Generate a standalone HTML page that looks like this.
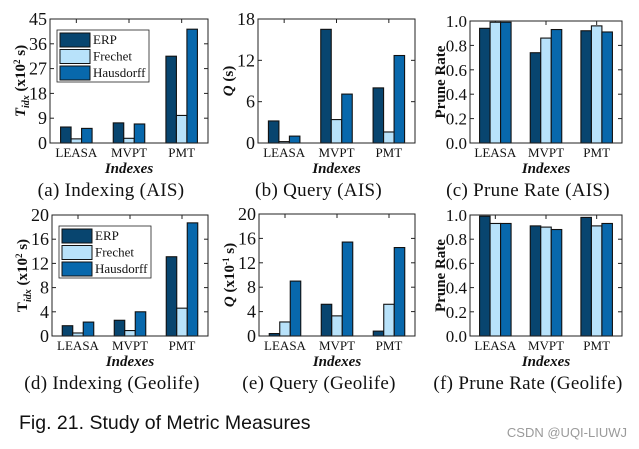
<!DOCTYPE html>
<html><head><meta charset="utf-8">
<style>
body{margin:0;background:#fff;}
svg{display:block;}
text{font-family:"Liberation Serif",serif;fill:#111;}
</style></head>
<body>
<svg id="fig" width="639" height="449" viewBox="0 0 639 449" xmlns="http://www.w3.org/2000/svg"></svg>
<script>
const categories = ["LEASA","MVPT","PMT"];
const seriesNames = ["ERP","Frechet","Hausdorff"];
const colors = ["#08456f","#b8e2fa","#0868ac"];
const aErp=[5.8,7.3,31.5], aFre=[1.5,1.7,10], aHau=[5.3,6.9,41.3];
const bErp=[3.2,16.5,8], bFre=[0.2,3.4,1.6], bHau=[1,7.1,12.7];
const cErp=[0.94,0.74,0.92], cFre=[0.99,0.86,0.96], cHau=[0.99,0.93,0.91];
const dErp=[1.7,2.6,13.1], dFre=[0.5,0.9,4.6], dHau=[2.3,4.0,18.7];
const eErp=[0.4,5.2,0.8], eFre=[2.3,3.3,5.2], eHau=[9.0,15.4,14.5];
const fErp=[0.99,0.91,0.98], fFre=[0.93,0.90,0.91], fHau=[0.93,0.88,0.93];
const aTicks=[0,9,18,27,36,45], bTicks=[0,6,12,18], cTicks=["0.0","0.2","0.4","0.6","0.8","1.0"];
const dTicks=[0,4,8,12,16,20], eTicks=[0,4,8,12,16,20], fTicks=["0.0","0.2","0.4","0.6","0.8","1.0"];

const NS="http://www.w3.org/2000/svg";
const svg=document.getElementById('fig');
function mk(tag,attrs,parent,txt){const e=document.createElementNS(NS,tag);for(const k in attrs)e.setAttribute(k,attrs[k]);if(txt!==undefined)e.textContent=txt;(parent||svg).appendChild(e);return e;}

function panel(id,L,R,T,B,ticks,series,ylabel,caption,legend,tfs){
  const g=mk('g',{});
  
  
  const vals=ticks.map(Number);
  const ymax=vals[vals.length-1];
  const y=v=>B-(v/ymax)*(B-T);
  const x=i=>L+(R-L)*(0.5+i)/3;
  const bw=10.5;
  ticks.forEach((t,k)=>{
    const yy=y(vals[k]);
    if(k>0&&k<ticks.length-1){mk('line',{x1:L,x2:L+4,y1:yy,y2:yy,stroke:'#222'},g);mk('line',{x1:R,x2:R-4,y1:yy,y2:yy,stroke:'#222'},g);}
    const tl=mk('text',{x:L-3,y:yy+6,'text-anchor':'end','font-size':tfs},g,t);
    
    
  });
  for(let i=0;i<3;i++){
    mk('line',{x1:x(i),x2:x(i),y1:T,y2:T+4,stroke:'#222'},g);
    series.forEach((s,j)=>{
      const v=s[i];
      const r=mk('rect',{x:x(i)+(j-1.5)*bw,y:y(v),width:bw,height:B-y(v),fill:colors[j],stroke:'#111','stroke-width':1.1},g);
      
      
    });
    const cl=mk('text',{x:x(i),y:B+14,'text-anchor':'middle','font-size':13},g,categories[i]);
    
    
  }
  const fr=mk('rect',{x:L,y:T,width:R-L,height:B-T,fill:'none',stroke:'#222','stroke-width':1},g);
  
  
  const xt=mk('text',{x:(L+R)/2,y:B+30,'text-anchor':'middle','font-size':15,'font-weight':'bold','font-style':'italic'},g,'Indexes');
  
  
  const yt=mk('text',{transform:`translate(${L-25},${(T+B)/2}) rotate(-90)`,'text-anchor':'middle','font-size':15,'font-weight':'bold'},g);
  yt.innerHTML=ylabel;
  
  
  const cap=mk('text',{x:(L+R)/2-18,y:B+53,'text-anchor':'middle','font-size':19,'letter-spacing':0.3},g,caption);
  
  
  if(legend){
    const lg=mk('g',{},g);
    
    
    mk('rect',{x:L+7,y:T+11,width:92,height:52,fill:'#fff',stroke:'#222','stroke-width':0.8},lg);
    seriesNames.forEach((n,j)=>{
      const yy=T+14+j*16.5;
      const sw=mk('rect',{x:L+10,y:yy,width:30,height:14,fill:colors[j],stroke:'#111','stroke-width':1},lg);
      
      
      const lt=mk('text',{x:L+43,y:yy+11,'font-size':13},lg,n);
      
      
    });
  }
}
panel('a',50,208,19,143,aTicks,[aErp,aFre,aHau],'<tspan font-style="italic">T</tspan><tspan font-size="10" dy="4" font-style="italic">idx</tspan><tspan dy="-4"> (x10</tspan><tspan font-size="9" dy="-5">2</tspan><tspan dy="5"> s)</tspan>','(a) Indexing (AIS)',true,18);
panel('b',258,415,19,143,bTicks,[bErp,bFre,bHau],'<tspan font-style="italic">Q</tspan> (s)','(b) Query (AIS)',false,18);
panel('c',470,622,21,143,cTicks,[cErp,cFre,cHau],'Prune Rate','(c) Prune Rate (AIS)',false,17);
panel('d',52,208,215,336,dTicks,[dErp,dFre,dHau],'T<tspan font-size="10" dy="4" font-style="italic">idx</tspan><tspan dy="-4"> (x10</tspan><tspan font-size="9" dy="-5">2</tspan><tspan dy="5"> s)</tspan>','(d) Indexing (Geolife)',true,18);
panel('e',259,415,214,336,eTicks,[eErp,eFre,eHau],'<tspan font-style="italic">Q</tspan> (x10<tspan font-size="9" dy="-5">-1</tspan><tspan dy="5"> s)</tspan>','(e) Query (Geolife)',false,18);
panel('f',470,622,215,336,fTicks,[fErp,fFre,fHau],'Prune Rate','(f) Prune Rate (Geolife)',false,17);

const fc=mk('text',{x:19,y:429,'font-size':19.5,style:'font-family:"Liberation Sans",sans-serif'},svg,'Fig. 21. Study of Metric Measures');


const wm=mk('text',{x:627,y:437,'text-anchor':'end','font-size':13,style:'font-family:"Liberation Sans",sans-serif;fill:#9a9a9a'},svg,'CSDN @UQI-LIUWJ');


</script>
</body></html>
